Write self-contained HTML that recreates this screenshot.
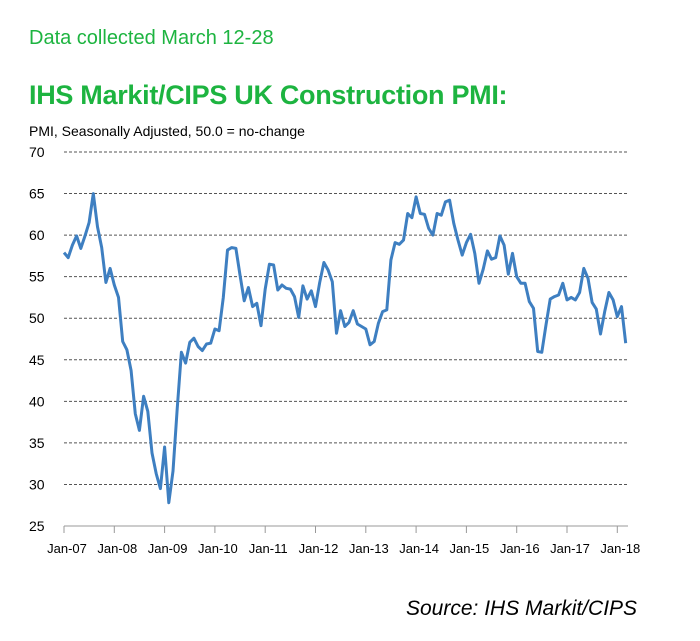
<!DOCTYPE html>
<html><head><meta charset="utf-8"><style>
html,body{margin:0;padding:0;background:#fff;}
body{width:700px;height:641px;position:relative;overflow:hidden;font-family:"Liberation Sans",sans-serif;}
.t1{position:absolute;left:29px;top:27px;font-size:20px;color:#1db440;}
.t2{position:absolute;left:29px;top:80px;font-size:27px;font-weight:bold;color:#1db440;letter-spacing:-0.3px;}
.src{position:absolute;left:406px;top:597px;font-size:21px;font-style:italic;color:#000;}
svg{position:absolute;left:0;top:0;}
</style></head><body>
<div class="t1">Data collected March 12-28</div>
<div class="t2">IHS Markit/CIPS UK Construction PMI:</div>
<svg width="700" height="641" id="s" font-family="Liberation Sans, sans-serif">
<text x="29" y="136" font-size="14" fill="#000">PMI, Seasonally Adjusted, 50.0 = no-change</text>
</svg>
<div class="src">Source: IHS Markit/CIPS</div>
<script>
var s=document.getElementById('s'),h='';
function Y(v){return 526-(v-25)*8.311;}
for(var v=30;v<=70;v+=5){var y=Y(v);h+='<line x1="64" x2="628" y1="'+y+'" y2="'+y+'" stroke="#555" stroke-width="1" stroke-dasharray="3,2"/>';}
for(var v=25;v<=70;v+=5){h+='<text x="29" y="'+(Y(v)+5)+'" font-size="14">'+v+'</text>';}
h+='<line x1="64" x2="628" y1="526" y2="526" stroke="#999"/>';
var lab=['Jan-07','Jan-08','Jan-09','Jan-10','Jan-11','Jan-12','Jan-13','Jan-14','Jan-15','Jan-16','Jan-17','Jan-18'];
for(var i=0;i<12;i++){var x=64+50.3*i;h+='<line x1="'+x+'" x2="'+x+'" y1="526" y2="533" stroke="#999"/>';h+='<text x="'+(x+3)+'" y="553" font-size="13" text-anchor="middle">'+lab[i]+'</text>';}
var d=[57.9,57.3,58.8,59.9,58.4,59.9,61.5,65,61,58.5,54.3,56,
54,52.5,47.2,46.2,43.7,38.5,36.5,40.6,38.8,33.8,31.3,29.5,
34.5,27.8,31.6,39.1,45.9,44.6,47.1,47.6,46.6,46.1,46.9,47.0,
48.7,48.5,52.5,58.2,58.5,58.4,55.2,52.1,53.7,51.4,51.8,49.1,
53.5,56.5,56.4,53.4,54.0,53.6,53.5,52.6,50.1,53.9,52.3,53.3,
51.4,54.3,56.7,55.8,54.4,48.2,50.9,49.0,49.5,50.9,49.3,49.0,
48.7,46.8,47.2,49.4,50.8,51.0,57.0,59.1,58.9,59.4,62.6,62.1,
64.6,62.6,62.5,60.8,60.0,62.6,62.4,64.0,64.2,61.4,59.4,57.6,
59.1,60.1,57.8,54.2,55.9,58.1,57.1,57.3,59.9,58.8,55.3,57.8,
55.0,54.2,54.2,52.0,51.2,46.0,45.9,49.2,52.3,52.6,52.8,54.2,
52.2,52.5,52.2,53.1,56.0,54.8,51.9,51.1,48.1,50.8,53.1,52.2,
50.2,51.4,47.0];
var p='';for(var i=0;i<d.length;i++){p+=(i?'L':'M')+(64+50.3*i/12).toFixed(1)+','+Y(d[i]).toFixed(1);}
h+='<path d="'+p+'" fill="none" stroke="#3e7fc1" stroke-width="3" stroke-linejoin="round"/>';
s.insertAdjacentHTML('beforeend',h);
</script>
</body></html>
